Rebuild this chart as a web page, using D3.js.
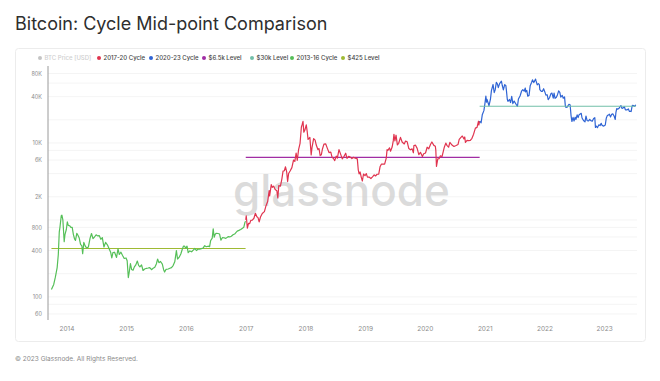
<!DOCTYPE html>
<html><head><meta charset="utf-8">
<script src="https://cdn.jsdelivr.net/npm/d3@7"></script>
<style>
html,body{margin:0;padding:0;background:#fff;}
svg{display:block;font-family:Inter,"Noto Sans",sans-serif;}
</style></head>
<body><svg id="c" width="660" height="381"></svg>
<script>
const titleText = "Bitcoin: Cycle Mid-point Comparison";
const footerText = "© 2023 Glassnode. All Rights Reserved.";
const legendLabels = ["BTC Price [USD]","2017-20 Cycle","2020-23 Cycle","$6.5k Level","$30k Level","2013-16 Cycle","$425 Level"];
const legendColors = ["#c4c4c4","#e0344f","#2f64d4","#a12da3","#72bfa8","#55bf58","#9fba33"];
const yTickValues = [60,100,400,800,2000,6000,10000,40000,80000];
const yTickLabels = ["60","100","400","800","2K","6K","10K","40K","80K"];
const yGridValues = [60,80,100,200,400,600,800,1000,2000,4000,6000,8000,10000,20000,40000,60000,80000];
const xTickYears = [2014,2015,2016,2017,2018,2019,2020,2021,2022,2023];

const cycle1316 = [["2013-10-01",125],["2013-10-15",145],["2013-10-25",180],["2013-11-05",240],["2013-11-12",355],["2013-11-18",700],["2013-11-22",800],["2013-11-30",1130],["2013-12-04",1150],["2013-12-10",990],["2013-12-18",520],["2013-12-23",650],["2013-12-31",750],
["2014-01-06",940],["2014-01-12",850],["2014-01-20",840],["2014-01-28",800],["2014-02-05",800],["2014-02-12",650],["2014-02-20",560],["2014-02-25",540],["2014-03-05",670],["2014-03-12",630],["2014-03-20",580],["2014-03-28",480],["2014-04-05",460],["2014-04-10",365],["2014-04-17",510],["2014-04-25",460],["2014-05-05",430],["2014-05-15",445],["2014-05-25",575],["2014-06-03",665],["2014-06-12",570],["2014-06-20",595],["2014-07-01",640],["2014-07-10",620],["2014-07-20",625],["2014-07-30",560],["2014-08-08",590],["2014-08-18",445],["2014-08-28",510],["2014-09-08",475],["2014-09-18",425],["2014-09-28",380],["2014-10-05",320],["2014-10-12",375],["2014-10-22",380],["2014-11-03",325],["2014-11-12",420],["2014-11-20",355],["2014-11-30",380],["2014-12-10",345],["2014-12-20",315],["2014-12-31",320],
["2015-01-07",295],["2015-01-14",178],["2015-01-20",212],["2015-01-27",270],["2015-02-03",227],["2015-02-12",222],["2015-02-20",245],["2015-03-01",260],["2015-03-10",292],["2015-03-18",256],["2015-03-26",245],["2015-04-05",260],["2015-04-14",220],["2015-04-24",230],["2015-05-05",235],["2015-05-15",237],["2015-05-25",240],["2015-06-05",225],["2015-06-15",236],["2015-06-25",243],["2015-07-05",270],["2015-07-12",310],["2015-07-20",278],["2015-07-30",288],["2015-08-10",266],["2015-08-18",225],["2015-08-24",210],["2015-09-02",228],["2015-09-15",230],["2015-09-25",235],["2015-10-05",240],["2015-10-15",255],["2015-10-25",285],["2015-11-04",400],["2015-11-11",310],["2015-11-20",325],["2015-12-01",360],["2015-12-10",415],["2015-12-17",455],["2015-12-24",455],["2015-12-31",430],
["2016-01-08",455],["2016-01-15",375],["2016-01-25",395],["2016-02-05",385],["2016-02-15",405],["2016-02-25",425],["2016-03-05",400],["2016-03-15",415],["2016-03-25",418],["2016-04-05",423],["2016-04-15",430],["2016-04-25",462],["2016-05-05",448],["2016-05-15",455],["2016-05-25",450],["2016-05-31",535],["2016-06-10",580],["2016-06-16",765],["2016-06-22",595],["2016-06-28",650],["2016-07-05",670],["2016-07-15",665],["2016-07-25",655],["2016-08-02",545],["2016-08-12",590],["2016-08-22",585],["2016-09-01",575],["2016-09-15",605],["2016-09-25",600],["2016-10-05",612],["2016-10-15",640],["2016-10-25",655],["2016-11-03",690],["2016-11-10",715],["2016-11-20",730],["2016-12-01",750],["2016-12-10",775],["2016-12-20",800],["2016-12-27",930],["2016-12-31",960]];

const cycle1720 = [["2017-01-01",1000],["2017-01-04",1130],["2017-01-11",780],["2017-01-18",900],["2017-01-25",895],["2017-02-01",985],["2017-02-10",995],["2017-02-20",1050],["2017-03-01",1220],["2017-03-10",1100],["2017-03-17",1070],["2017-03-24",940],["2017-04-01",1090],["2017-04-12",1210],["2017-04-25",1280],["2017-05-05",1530],["2017-05-15",1730],["2017-05-24",2400],["2017-05-27",2050],["2017-06-06",2870],["2017-06-12",2650],["2017-06-20",2750],["2017-06-30",2480],["2017-07-10",2400],["2017-07-16",1930],["2017-07-22",2800],["2017-08-01",2750],["2017-08-10",3420],["2017-08-17",4300],["2017-08-25",4350],["2017-09-01",4900],["2017-09-08",4250],["2017-09-14",3150],["2017-09-20",4000],["2017-09-30",4350],["2017-10-10",4780],["2017-10-20",6000],["2017-10-28",5750],["2017-11-05",7400],["2017-11-12",5950],["2017-11-20",8200],["2017-11-29",9900],["2017-12-07",16000],["2017-12-12",17400],["2017-12-17",19100],["2017-12-22",13800],["2017-12-28",14600],
["2018-01-06",17200],["2018-01-12",13900],["2018-01-17",11100],["2018-01-28",11800],["2018-02-05",7000],["2018-02-10",8700],["2018-02-20",11400],["2018-03-01",10900],["2018-03-08",9400],["2018-03-18",8200],["2018-03-25",8450],["2018-04-01",6850],["2018-04-08",7000],["2018-04-15",8350],["2018-04-24",9650],["2018-05-05",9700],["2018-05-15",8500],["2018-05-25",7500],["2018-06-05",7600],["2018-06-12",6600],["2018-06-24",6150],["2018-06-29",5900],["2018-07-08",6750],["2018-07-15",6350],["2018-07-25",8200],["2018-08-05",7050],["2018-08-14",6200],["2018-08-25",6700],["2018-09-04",7350],["2018-09-12",6300],["2018-09-22",6700],["2018-10-02",6550],["2018-10-12",6250],["2018-10-22",6500],["2018-11-02",6350],["2018-11-14",6200],["2018-11-20",4450],["2018-11-25",3950],["2018-12-01",4200],["2018-12-08",3600],["2018-12-15",3200],["2018-12-22",3950],["2018-12-31",3750],
["2019-01-08",4000],["2019-01-15",3600],["2019-01-25",3600],["2019-02-05",3450],["2019-02-15",3620],["2019-02-25",3850],["2019-03-05",3720],["2019-03-15",3920],["2019-03-25",3930],["2019-04-02",4900],["2019-04-10",5300],["2019-04-20",5300],["2019-04-30",5300],["2019-05-10",6350],["2019-05-15",8200],["2019-05-20",8000],["2019-05-30",8650],["2019-06-05",7800],["2019-06-15",8850],["2019-06-22",10700],["2019-06-26",12900],["2019-07-02",10600],["2019-07-09",12600],["2019-07-17",9450],["2019-07-25",9900],["2019-08-05",11800],["2019-08-15",10300],["2019-08-28",9700],["2019-09-05",10600],["2019-09-15",10350],["2019-09-25",8450],["2019-10-05",8150],["2019-10-15",8370],["2019-10-23",7450],["2019-10-26",9250],["2019-11-05",9350],["2019-11-15",8500],["2019-11-25",7050],["2019-12-05",7550],["2019-12-17",6650],["2019-12-25",7250],
["2020-01-05",7400],["2020-01-15",8800],["2020-01-25",8400],["2020-02-05",9600],["2020-02-13",10300],["2020-02-25",9300],["2020-03-05",9050],["2020-03-08",8050],["2020-03-12",4950],["2020-03-20",6200],["2020-03-28",6250],["2020-04-05",6800],["2020-04-15",6650],["2020-04-29",8800],["2020-05-08",9950],["2020-05-15",9300],["2020-05-25",8800],["2020-06-02",10150],["2020-06-15",9400],["2020-06-27",9000],["2020-07-10",9250],["2020-07-22",9550],["2020-07-29",11100],["2020-08-10",11900],["2020-08-17",12300],["2020-08-27",11300],["2020-09-01",11950],["2020-09-05",10150],["2020-09-15",10800],["2020-09-25",10700],["2020-10-05",10800],["2020-10-15",11500],["2020-10-25",13000],["2020-11-05",15600],["2020-11-15",15950],["2020-11-24",19150],["2020-11-26",17100],["2020-12-01",19200]];

const cycle2023 = [["2020-12-01",19200],["2020-12-10",18300],["2020-12-17",23200],["2020-12-27",26300],["2021-01-02",32200],["2021-01-08",40700],["2021-01-12",33900],["2021-01-15",36800],["2021-01-22",33000],["2021-01-27",30400],["2021-02-05",37000],["2021-02-11",47900],["2021-02-21",57500],["2021-02-28",45200],["2021-03-06",48900],["2021-03-13",61200],["2021-03-20",58300],["2021-03-25",52300],["2021-04-02",59000],["2021-04-13",63500],["2021-04-18",56200],["2021-04-25",49000],["2021-05-03",57200],["2021-05-10",55800],["2021-05-13",49700],["2021-05-19",37000],["2021-05-23",34700],["2021-06-01",36700],["2021-06-08",33500],["2021-06-15",40200],["2021-06-22",32500],["2021-06-30",35000],["2021-07-08",32800],["2021-07-20",29800],["2021-07-26",37200],["2021-08-05",40800],["2021-08-14",47000],["2021-08-22",49300],["2021-08-30",47000],["2021-09-06",51700],["2021-09-08",46100],["2021-09-15",48100],["2021-09-21",40600],["2021-09-29",41500],["2021-10-06",55300],["2021-10-15",61500],["2021-10-20",66000],["2021-10-28",61000],["2021-11-08",67500],["2021-11-10",64900],["2021-11-18",56900],["2021-11-25",58900],["2021-12-01",57200],["2021-12-04",49400],["2021-12-13",46700],["2021-12-20",46900],["2021-12-27",50700],
["2022-01-03",46400],["2022-01-10",41800],["2022-01-18",42300],["2022-01-24",36600],["2022-02-01",38700],["2022-02-10",43800],["2022-02-16",44500],["2022-02-24",38300],["2022-03-01",44400],["2022-03-07",38000],["2022-03-15",39300],["2022-03-22",42400],["2022-03-29",47400],["2022-04-05",45500],["2022-04-11",39500],["2022-04-20",41500],["2022-04-26",38100],["2022-05-04",39700],["2022-05-09",30100],["2022-05-12",29000],["2022-05-20",29200],["2022-05-31",31800],["2022-06-07",31400],["2022-06-13",22500],["2022-06-18",19000],["2022-06-25",21500],["2022-07-01",19300],["2022-07-08",21600],["2022-07-13",20200],["2022-07-20",23200],["2022-07-26",21300],["2022-08-01",23300],["2022-08-14",24300],["2022-08-19",21100],["2022-08-28",19600],["2022-09-06",18800],["2022-09-12",22400],["2022-09-19",19500],["2022-09-28",19400],["2022-10-05",20300],["2022-10-13",19400],["2022-10-20",19100],["2022-10-29",20800],["2022-11-05",21300],["2022-11-09",15900],["2022-11-14",16600],["2022-11-21",15800],["2022-11-30",17200],["2022-12-07",16800],["2022-12-14",18000],["2022-12-20",16900],["2022-12-30",16550],
["2023-01-08",17100],["2023-01-14",20900],["2023-01-21",22800],["2023-01-28",23100],["2023-02-02",23700],["2023-02-09",21800],["2023-02-16",23600],["2023-02-23",23900],["2023-03-03",22400],["2023-03-10",20200],["2023-03-14",24700],["2023-03-19",28000],["2023-03-25",27500],["2023-04-02",28200],["2023-04-11",30200],["2023-04-14",30500],["2023-04-20",28200],["2023-04-26",28400],["2023-05-05",29500],["2023-05-11",26900],["2023-05-20",26900],["2023-05-29",27700],["2023-06-05",25700],["2023-06-10",25800],["2023-06-15",25600],["2023-06-21",30000],["2023-06-23",30700],["2023-07-01",30600],["2023-07-06",29900],["2023-07-10",30400],["2023-07-13",31400]];

const level425 = [["2013-10-01",425],["2016-12-31",425]];
const level6500 = [["2017-01-01",6500],["2020-12-01",6500]];
const level30k = [["2020-12-01",30000],["2023-07-13",30000]];

const svg = d3.select("#c");
const parse = d3.timeParse("%Y-%m-%d");

// title
svg.append("text").attr("x",15).attr("y",30).attr("font-size",18).attr("font-weight",400)
  .attr("fill","#2e2e2e").text(titleText);
// card
svg.append("rect").attr("x",15.5).attr("y",48.5).attr("width",630).attr("height",293).attr("rx",3)
  .attr("fill","#fff").attr("stroke","#ececec");
// footer
svg.append("text").attr("x",15).attr("y",361).attr("font-size",6.5).attr("fill","#8a8a8a").text(footerText);

const pL = 48, pR = 637, pT = 66, pB = 320;
const x = d3.scaleTime().domain([parse("2013-09-10"), parse("2023-07-21")]).range([pL, pR]);
const y = d3.scaleLog().domain([50, 100000]).range([pB, pT]);

// grid
svg.append("g").selectAll("line").data(yGridValues).join("line")
  .attr("x1",pL).attr("x2",pR).attr("y1",d=>y(d)).attr("y2",d=>y(d))
  .attr("stroke","#f1f1f1").attr("stroke-width",0.8);

// y axis
const yAxis = d3.axisLeft(y).tickValues(yTickValues).tickFormat((d,i)=>yTickLabels[i]).tickSize(0).tickPadding(6);
const gy = svg.append("g").attr("transform",`translate(${pL},0)`).call(yAxis);
gy.select(".domain").attr("stroke","#9a9a9a").attr("d",`M0,${pT}V${pB}`);
gy.selectAll("text").attr("font-size",5.5).attr("fill","#8c8c8c").attr("font-family","Inter,sans-serif");

// x axis
const xAxis = d3.axisBottom(x).tickValues(xTickYears.map(yr=>new Date(yr,0,1))).tickFormat(d3.timeFormat("%Y")).tickSize(0).tickPadding(6);
const gx = svg.append("g").attr("transform",`translate(0,${pB})`).call(xAxis);
gx.select(".domain").remove();
gx.selectAll("text").attr("font-size",6.5).attr("fill","#8c8c8c").attr("font-family","Inter,sans-serif");

// watermark
svg.append("text").attr("x",233).attr("y",206).attr("font-size",44).attr("font-weight",500)
  .attr("fill","#cfcfcf").attr("fill-opacity",0.75).attr("font-family","Inter,sans-serif").text("glassnode");

const line = d3.line().x(d=>x(parse(d[0]))).y(d=>y(d[1]));
function draw(data,color,w){
  svg.append("path").datum(data).attr("d",line).attr("fill","none").attr("stroke",color)
    .attr("stroke-width",w).attr("stroke-linejoin","round");
}
draw(level425,legendColors[6],1.1);
draw(level6500,legendColors[3],1.1);
draw(cycle1316,legendColors[5],1.2);
draw(cycle1720,legendColors[1],1.2);
draw(cycle2023,legendColors[2],1.2);
draw(level30k,legendColors[4],1.1);

// legend
const legendX = [40,99,151,204,252,292,343];
const lg = svg.append("g").selectAll("g").data(legendLabels).join("g")
  .attr("transform",(d,i)=>`translate(${legendX[i]},58)`);
lg.append("circle").attr("r",2).attr("fill",(d,i)=>legendColors[i]);
lg.append("text").attr("x",4.5).attr("y",2.2).attr("font-size",6).attr("font-weight",500)
  .attr("fill",(d,i)=>i===0?"#cfcfcf":"#444").text(d=>d);
</script></body></html>
